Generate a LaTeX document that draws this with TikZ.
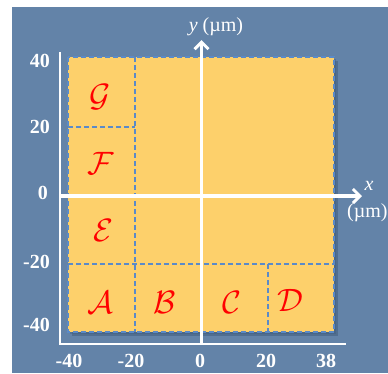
\documentclass[tikz,border=0pt]{standalone}
\usepackage{fontspec}
\setmainfont{Liberation Serif}
\usetikzlibrary{arrows.meta}
\definecolor{bgblue}{HTML}{6383A8}
\definecolor{panel}{HTML}{FDD06B}
\definecolor{dashblue}{HTML}{5A8AC8}
\definecolor{shadowblue}{HTML}{3F5A7A}
\newcommand{\calLetter}[1]{\scalebox{1.3}{$\mathcal{#1}$}}
\tikzset{
  region/.style={draw=dashblue, line width=1.6pt, dash pattern=on 5pt off 3pt},
  letter/.style={text=red, font=\Huge},
  tick/.style={text=white, font=\fontsize{20}{23}\selectfont\bfseries, inner sep=0pt},
  axlabel/.style={text=white, font=\fontsize{20}{24}\selectfont, inner sep=0pt},
  axis/.style={white, line width=3.5pt, -{Straight Barb[length=7pt,width=14pt,line width=3pt]}},
  frame/.style={white, line width=1.5pt}
}
\begin{document}
\begin{tikzpicture}[x=1pt,y=-1pt]
\useasboundingbox (0,0) rectangle (388,373);
\fill[white] (0,0) rectangle (388,373);
\fill[bgblue] (12,7) rectangle (388,373);
% shadow
\fill[shadowblue, opacity=0.5] (72,61) rectangle (338,336);
\fill[shadowblue, opacity=0.4] (70,59) rectangle (336,334);
% panel
\fill[panel] (68,57) rectangle (334,332);
% region borders
\draw[region, line width=1.2pt] (68,57) rectangle (334,332);
\draw[region] (135,57) -- (135,332);
\draw[region] (68,127) -- (135,127);
\draw[region] (68,264) -- (334,264);
\draw[region] (268,264) -- (268,332);
% letters
\node[letter] (G) at (100,97) {\calLetter{G}};
\node[letter] (F) at (101,163) {\calLetter{F}};
\node[letter] (E) at (103,230) {\calLetter{E}};
\node[letter] (A) at (100,302) {\calLetter{A}};
\node[letter] (B) at (165,302) {\calLetter{B}};
\node[letter] (C) at (232,302) {\calLetter{C}};
\node[letter] (D) at (290,300) {\calLetter{D}};
% frame lines
\coordinate (ftop) at (60,52);
\coordinate (fcorner) at (60,344);
\coordinate (fright) at (346,344);
\draw[frame] (ftop) -- (fcorner) -- (fright);
% axes
\coordinate (xs) at (60,196);
\coordinate (xe) at (362,196);
\coordinate (ys) at (201.5,344);
\coordinate (ye) at (201.5,40);
\draw[axis] (xs) -- (xe);
\draw[axis] (ys) -- (ye);
% axis labels
\node[axlabel] (ylab) at (216,27) {\textit{y} (µm)};
\node[axlabel] (xlab) at (369,186) {\textit{x}};
\node[axlabel, anchor=west] (xunit) at (347,213) {(µm)};
% ticks
\node[tick, anchor=east] (t40) at (50,61) {40};
\node[tick, anchor=east] (t20) at (50,127) {20};
\node[tick, anchor=east] (t0) at (48,193) {0};
\node[tick, anchor=east] (tm20) at (50,262) {-20};
\node[tick, anchor=east] (tm40) at (50,325) {-40};
\node[tick] (bm40) at (69,361) {-40};
\node[tick] (bm20) at (131,361) {-20};
\node[tick] (b0) at (200,361) {0};
\node[tick] (b20) at (266,361) {20};
\node[tick] (b38) at (326,361) {38};
\end{tikzpicture}
\end{document}
